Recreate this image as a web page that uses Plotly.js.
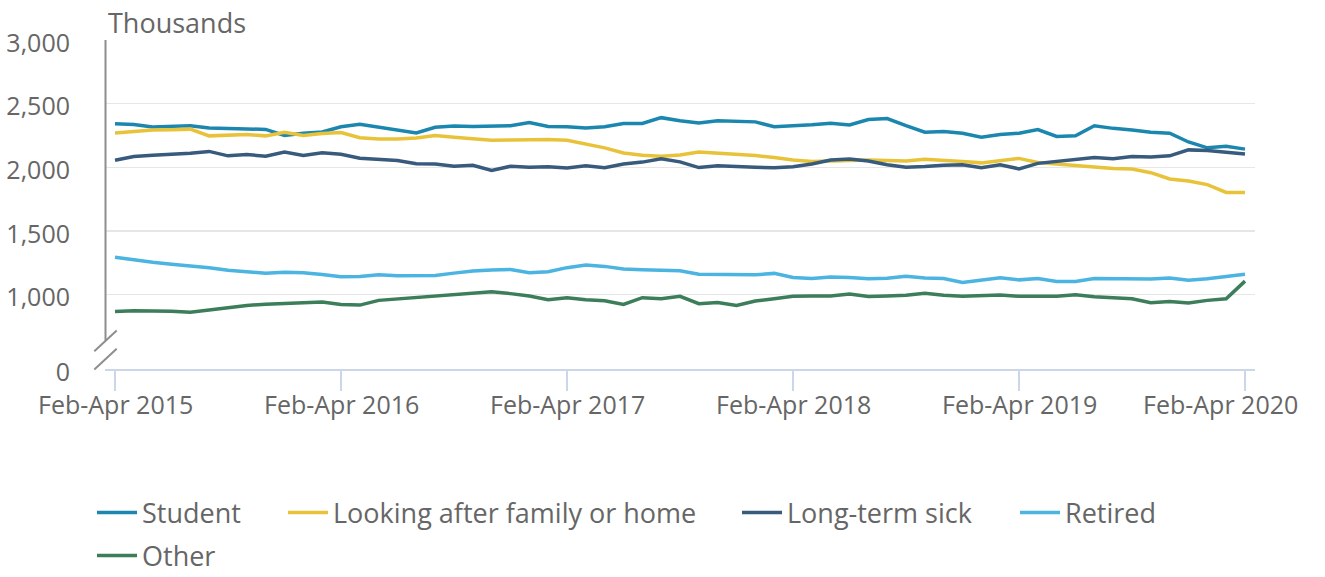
<!DOCTYPE html>
<html><head><meta charset="utf-8">
<script src="https://cdn.plot.ly/plotly-3.0.1.min.js"></script>
<style>html,body{margin:0;padding:0;background:#fff}#chart{width:1325px;height:577px}</style>
</head><body><div id="chart"></div>
<script>
const MONTHS = ["Jan","Feb","Mar","Apr","May","Jun","Jul","Aug","Sep","Oct","Nov","Dec"];
const N_PERIODS = 61;
const periods = [];
for (let i = 0; i < N_PERIODS; i++) {
  const s = 1 + i, e = s + 2;
  periods.push(MONTHS[s % 12] + "-" + MONTHS[e % 12] + " " + (2015 + Math.floor(e / 12)));
}
const tickPeriods = ["Feb-Apr 2015","Feb-Apr 2016","Feb-Apr 2017","Feb-Apr 2018","Feb-Apr 2019","Feb-Apr 2020"];
const yTickVals = [416, 1000, 1500, 2000, 2500, 3000];
const yTickText = ["0","1,000","1,500","2,000","2,500","3,000"];

const student = [2342,2337,2316,2319,2327,2309,2306,2304,2298,2250,
  2268,2278,2319,2339,2314,2293,2270,2314,2324,2321,
  2322,2326,2352,2321,2319,2309,2319,2344,2344,2390,
  2365,2349,2365,2362,2357,2319,2326,2334,2347,2332,
  2375,2383,2327,2276,2281,2268,2237,2258,2268,2296,
  2242,2247,2327,2306,2293,2276,2268,2199,2153,2166,
  2143];
const lookingAfter = [2270,2283,2293,2296,2300,2247,2250,2258,2247,2275,
  2250,2265,2273,2232,2222,2222,2230,2250,2237,2227,
  2213,2214,2219,2219,2212,2186,2153,2112,2094,2087,
  2096,2120,2112,2106,2093,2077,2057,2045,2050,2056,
  2057,2054,2050,2064,2058,2046,2035,2052,2070,2038,
  2025,2012,2000,1991,1986,1958,1909,1893,1864,1803,
  1803];
const longTermSick = [2056,2085,2095,2103,2110,2125,2090,2100,2088,2120,
  2093,2115,2103,2072,2060,2053,2028,2026,2008,2016,
  1975,2008,2000,2005,1995,2013,1997,2026,2041,2068,
  2043,1998,2013,2004,2000,1996,2005,2026,2058,2065,
  2050,2020,2000,2006,2017,2020,1997,2020,1988,2031,
  2045,2058,2077,2068,2085,2081,2090,2137,2133,2118,
  2105];
const retired = [1294,1273,1254,1238,1228,1212,1191,1177,1169,1175,
  1172,1159,1140,1143,1156,1148,1151,1151,1169,1185,
  1193,1198,1172,1180,1212,1233,1222,1201,1196,1193,
  1188,1161,1159,1156,1156,1167,1135,1127,1138,1135,
  1124,1128,1144,1130,1127,1095,1115,1132,1116,1127,
  1104,1104,1127,1124,1124,1122,1130,1114,1124,1143,
  1160];
const other = [868,874,871,870,862,880,900,915,925,933,
  938,943,922,918,955,966,978,988,1002,1012,
  1022,1008,989,960,976,960,952,923,976,968,
  987,929,939,915,950,968,987,990,990,1005,
  985,990,995,1011,995,987,992,997,987,987,
  987,1000,984,976,968,937,947,934,955,968,
  1106];

const seriesNames = ["Student","Looking after family or home","Long-term sick","Retired","Other"];
const seriesValues = [student, lookingAfter, longTermSick, retired, other];
const seriesColors = ["#1b87af","#e8c33a","#375a7d","#4bb4e1","#3c7d5a"];
const legendWidths = [136, 399, 223, 150, 150];
const legendIds = ["legend","legend","legend","legend","legend2"];

const W = 1325, H = 577;
const L = 105, R = 1255, T = 40, B = 369.5;
const px = x => (x - L) / (R - L);
const py = y => (B - y) / (B - T);

const FONT = "Open Sans, sans-serif";
const TXT = "#666666";

const traces = seriesNames.map((name, k) => ({
  type: "scatter", mode: "lines", name: name,
  x: periods, y: seriesValues[k],
  line: {color: seriesColors[k], width: 3.5},
  legend: legendIds[k], legendwidth: legendWidths[k],
  hovertemplate: "%{x}: %{y:,}<extra>" + name + "</extra>"
}));

const annotations = [{
  text: "Thousands", xref: "paper", yref: "paper", x: px(106), y: py(22),
  xanchor: "left", yanchor: "middle", showarrow: false,
  font: {family: FONT, size: 27, color: TXT}
}];
tickPeriods.forEach((p, k) => {
  annotations.push({
    text: p, xref: "x", yref: "paper", x: p, y: py(405),
    xanchor: "center", yanchor: "middle", showarrow: false,
    xshift: k === tickPeriods.length - 1 ? -25 : 0,
    font: {family: FONT, size: 25, color: TXT}
  });
});

const axisGray = "#8e8e8e";
const shapes = [
  {type: "line", xref: "paper", yref: "paper", x0: px(105.5), x1: px(105.5), y0: py(T), y1: py(341),
   line: {color: axisGray, width: 2}},
  {type: "line", xref: "paper", yref: "paper", x0: px(94.3), x1: px(116.7), y0: py(351.7), y1: py(331),
   line: {color: axisGray, width: 2}},
  {type: "line", xref: "paper", yref: "paper", x0: px(94.3), x1: px(116.7), y0: py(370), y1: py(349.3),
   line: {color: axisGray, width: 2}}
];

const legendBase = {
  orientation: "h", xref: "container", yref: "container",
  xanchor: "left", yanchor: "middle", itemwidth: 40,
  font: {family: FONT, size: 27, color: TXT}, bgcolor: "rgba(0,0,0,0)", borderwidth: 0,
  traceorder: "normal"
};

const layout = {
  width: W, height: H,
  margin: {l: L, r: W - R, t: T, b: H - B, pad: 0},
  paper_bgcolor: "#ffffff", plot_bgcolor: "#ffffff",
  font: {family: FONT, size: 25, color: TXT},
  showlegend: true,
  legend: Object.assign({}, legendBase, {x: 92 / W, y: 1 - 513 / H}),
  legend2: Object.assign({}, legendBase, {x: 92 / W, y: 1 - 556 / H}),
  xaxis: {
    type: "category", range: [-10 / 18.833, 60 + 10 / 18.833],
    tickvals: tickPeriods, showticklabels: false,
    ticks: "outside", ticklen: 20, tickwidth: 1.5, tickcolor: "#ccd6eb",
    showline: true, linecolor: "#ccd6eb", linewidth: 1.5,
    showgrid: false, zeroline: false, fixedrange: true
  },
  yaxis: {
    range: [416, 3000], tickvals: yTickVals, ticktext: yTickText,
    ticks: "outside", ticklen: 29, tickcolor: "rgba(0,0,0,0)",
    ticklabelshift: 3,
    tickfont: {family: FONT, size: 25, color: TXT},
    showgrid: true, gridcolor: "#e6e6e6", gridwidth: 1.5,
    showline: false, zeroline: false, fixedrange: true
  },
  annotations: annotations,
  shapes: shapes
};

Plotly.newPlot("chart", traces, layout, {displayModeBar: false, staticPlot: true});
</script></body></html>
